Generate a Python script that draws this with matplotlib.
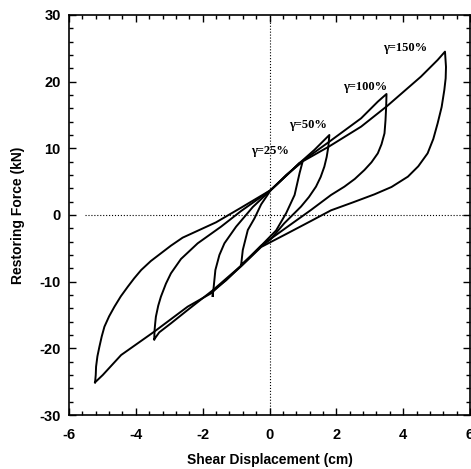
import matplotlib
matplotlib.use("Agg")
import matplotlib.pyplot as plt
from matplotlib.ticker import MultipleLocator

# hysteresis loops of the bearing, one per shear strain level
# each loop: upper branch from negative peak to positive peak, then lower branch back
disp_25 = [-0.85, -0.8, -0.65, -0.45, -0.25, 0.04, 0.5, 0.99,
           0.9, 0.75, 0.5, 0.2, -0.25, -0.55, -0.85]
force_25 = [-7.5, -5.25, -2.25, -0.5, 1.6, 3.75, 6.0, 8.0,
            6.3, 3.0, 0.3, -2.3, -4.6, -6.1, -7.5]

disp_50 = [-1.7, -1.67, -1.62, -1.5, -1.35, -1.0, -0.5, 0.04, 0.5, 0.89, 1.34, 1.79,
           1.76, 1.71, 1.64, 1.53, 1.39, 1.18, 0.94, 0.44, 0.04, -0.25, -0.85, -1.3,
           -1.7, -1.7]
force_50 = [-12.15, -10.75, -8.25, -6.0, -4.25, -1.75, 1.2, 3.75, 5.9, 7.75, 9.75, 12.0,
            10.25, 8.7, 7.25, 5.7, 4.25, 2.7, 1.25, -1.25, -3.6, -4.7, -7.6, -9.8,
            -11.4, -12.15]

disp_100 = [-3.45, -3.44, -3.42, -3.4, -3.33, -3.25, -3.1, -2.95, -2.65, -2.15, -1.45,
            -0.85, 0.04, 0.89, 1.79, 2.74, 3.24, 3.5,
            3.49, 3.47, 3.44, 3.35, 3.24, 3.05, 2.84, 2.55, 2.24, 1.84, 1.24, 0.5, -0.25,
            -0.85, -1.7, -2.45, -2.95, -3.3, -3.45]
force_100 = [-18.65, -17.3, -16.2, -15.25, -13.6, -12.25, -10.3, -8.75, -6.6, -4.25, -1.75,
             0.6, 3.75, 7.75, 11.0, 14.5, 17.0, 18.15,
             16.25, 14.2, 12.25, 10.6, 9.25, 7.9, 6.75, 5.4, 4.25, 3.0, 0.75, -1.9, -4.6,
             -7.6, -11.3, -14.25, -16.25, -17.6, -18.65]

disp_150 = [-5.22, -5.2, -5.19, -5.15, -5.09, -5.02, -4.94, -4.8, -4.64, -4.45, -4.24,
            -4.05, -3.84, -3.55, -3.25, -2.95, -2.6, -1.6, -0.85,
            0.04, 0.89, 1.79, 2.74, 3.52, 4.53, 4.88, 5.03, 5.25,
            5.28, 5.27, 5.23, 5.15, 5.03, 4.9, 4.73, 4.45, 4.14, 3.65, 3.14, 2.5, 1.84,
            1.24, 0.5, -0.25, -0.85, -1.75, -2.45, -3.45, -4.44, -4.99, -5.22]
force_150 = [-25.1, -24.0, -22.75, -21.2, -19.75, -18.2, -16.75, -15.2, -13.75, -12.2, -10.75,
             -9.5, -8.25, -6.9, -5.75, -4.6, -3.4, -1.1, 1.1,
             3.75, 7.75, 10.3, 13.25, 16.35, 20.75, 22.5, 23.25, 24.5,
             22.2, 20.5, 18.75, 16.2, 13.75, 11.4, 9.25, 7.3, 5.75, 4.2, 3.1, 1.9, 0.7,
             -0.9, -2.85, -4.8, -7.7, -11.75, -13.75, -17.5, -21.0, -24.0, -25.1]

loop_labels = ["\u03b3=25%", "\u03b3=50%", "\u03b3=100%", "\u03b3=150%"]
label_x = [-0.54, 0.6, 2.2, 3.41]
label_y = [9.6, 13.5, 19.2, 25.0]

plt.rcParams["axes.unicode_minus"] = False
plt.rcParams["font.family"] = ["Liberation Sans", "DejaVu Sans"]

fig = plt.figure(figsize=(4.71, 4.69), dpi=100)
ax = fig.add_axes([0.1465, 0.1151, 0.8515, 0.853])

ax.axhline(0, xmin=0.04, color="black", linestyle=":", linewidth=0.8)
ax.axvline(0, color="black", linestyle=":", linewidth=0.8)

for d, f in [(disp_25, force_25), (disp_50, force_50),
             (disp_100, force_100), (disp_150, force_150)]:
    ax.plot(d, f, color="black", linewidth=1.4, solid_joinstyle="round")

for txt, lx, ly in zip(loop_labels, label_x, label_y):
    ax.text(lx, ly, txt, ha="left", va="center", fontsize=9, fontweight="bold",
            family=["Liberation Serif", "DejaVu Serif"])

ax.set_xlim(-6, 6)
ax.set_ylim(-30, 30)
ax.xaxis.set_major_locator(MultipleLocator(2))
ax.xaxis.set_minor_locator(MultipleLocator(0.4))
ax.yaxis.set_major_locator(MultipleLocator(10))
ax.yaxis.set_minor_locator(MultipleLocator(2))
ax.tick_params(which="both", direction="in", top=True, right=True, width=1.0,
               labelsize=10.5)
ax.tick_params(which="major", length=5)
ax.tick_params(which="minor", length=3)
ax.tick_params(axis="x", pad=9)
ax.tick_params(axis="y", pad=6)
for lab in ax.get_xticklabels() + ax.get_yticklabels():
    lab.set_fontweight("bold")
for sp in ax.spines.values():
    sp.set_linewidth(1.2)

ax.set_xlabel("Shear Displacement (cm)", fontsize=10, fontweight="bold", labelpad=8)
ax.set_ylabel("Restoring Force (kN)", fontsize=10, fontweight="bold", labelpad=10)

fig.savefig("out.png", dpi=100)
